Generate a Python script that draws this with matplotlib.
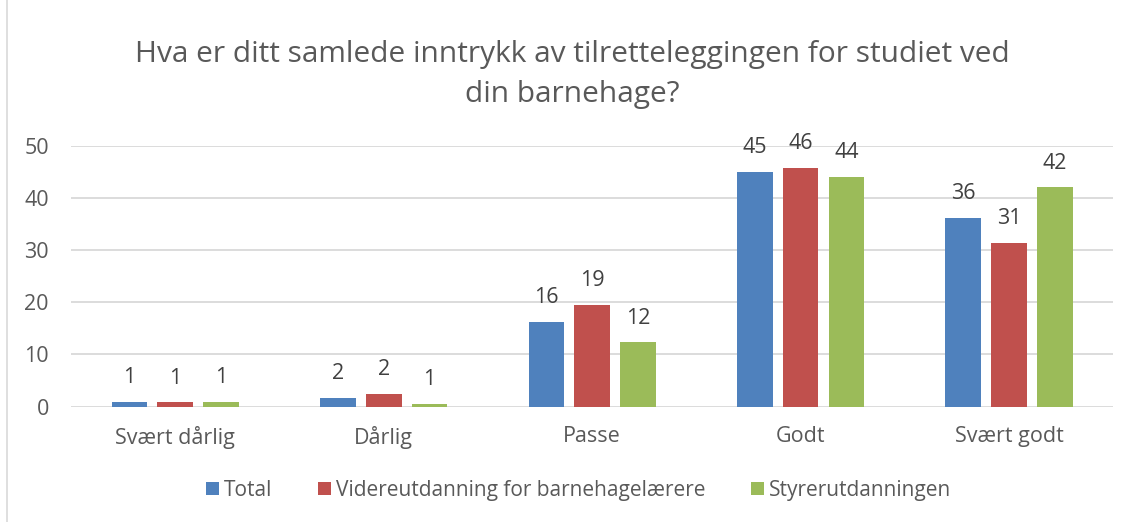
import matplotlib.pyplot as plt
import numpy as np
from matplotlib.patches import Rectangle

categories = ["Svært dårlig", "Dårlig", "Passe", "Godt", "Svært godt"]
series_names = ["Total", "Videreutdanning for barnehagelærere", "Styrerutdanningen"]
total = [0.84, 1.6, 16.2, 45.0, 36.1]
videre = [0.8, 2.4, 19.4, 45.8, 31.3]
styrer = [0.95, 0.55, 12.3, 44.0, 42.0]
series_values = [total, videre, styrer]
colors = ["#4F81BD", "#C0504D", "#9BBB59"]

plt.rcParams["font.family"] = ["Open Sans", "DejaVu Sans"]

fig = plt.figure(figsize=(11.28, 5.22), dpi=100)
ax = fig.add_axes([0.063, 0.221, 0.924, 0.5])

x = np.arange(len(categories))
width = 0.171
step = 0.22
for i, (name, vals, col) in enumerate(zip(series_names, series_values, colors)):
    pos = x + (i - 1) * step
    bars = ax.bar(pos, vals, width, color=col, label=name, zorder=3)
    for b, v in zip(bars, vals):
        ax.annotate("%d" % round(v), (b.get_x() + b.get_width() / 2, v),
                    xytext=(0, 10), textcoords="offset points",
                    ha="center", va="bottom", fontsize=15.5, color="#404040")

ax.set_xlim(-0.5, 4.5)
ax.set_ylim(0, 50)
ax.set_yticks(range(0, 51, 10))
ax.set_xticks(x)
ax.set_xticklabels(categories)
ax.tick_params(axis="both", length=0, labelsize=15.5, colors="#595959")
ax.tick_params(axis="x", pad=14)
ax.tick_params(axis="y", pad=16)
ax.grid(axis="y", color="#D9D9D9", linewidth=1.3, zorder=0)
for s in ax.spines.values():
    s.set_visible(False)

fig.text(0.507, 0.857, "Hva er ditt samlede inntrykk av tilretteleggingen for studiet ved\ndin barnehage?",
         ha="center", va="center", fontsize=21.5, color="#595959", linespacing=1.5)

ax.legend(loc="center", bbox_to_anchor=(0.487, -0.32), ncol=3, frameon=False,
          fontsize=15, handlelength=0.6, handleheight=0.6, handletextpad=0.25,
          columnspacing=2.2, labelcolor="#595959")

fig.patches.append(Rectangle((0.006, -0.01), 1.0, 1.02, transform=fig.transFigure,
                             fill=False, edgecolor="#D9D9D9", linewidth=1.2))

fig.savefig("out.png", dpi=100)
